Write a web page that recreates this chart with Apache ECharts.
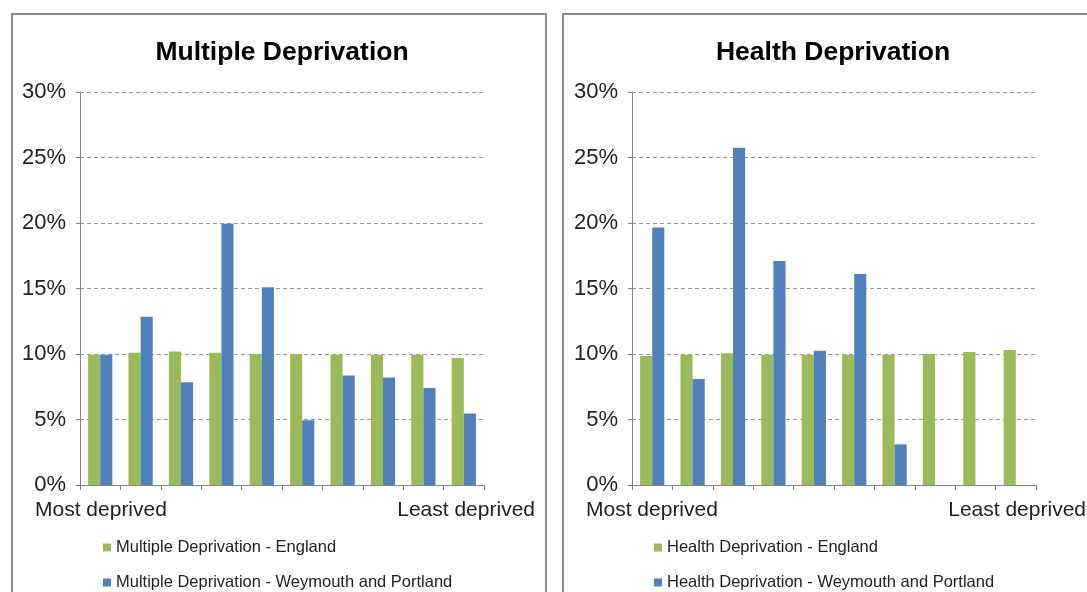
<!DOCTYPE html>
<html>
<head>
<meta charset="utf-8">
<script src="https://cdn.jsdelivr.net/npm/echarts@6/dist/echarts.min.js"></script>
<style>
  html, body { margin: 0; padding: 0; background: #fff; }
  #chart { width: 1087px; height: 592px; }
</style>
</head>
<body>
<div id="chart"></div>
<script>
// Deciles, from most deprived (1) to least deprived (10)
const deciles = ['1', '2', '3', '4', '5', '6', '7', '8', '9', '10'];

// Share of areas in each decile (%)
const multipleEngland   = [9.95, 10.1, 10.2, 10.1, 10.0, 10.0, 9.95, 9.95, 9.95, 9.7];
const multipleWeymouth  = [9.95, 12.85, 7.85, 19.95, 15.1, 4.95, 8.35, 8.2, 7.4, 5.45];
const healthEngland     = [9.85, 9.95, 10.05, 9.95, 9.95, 9.95, 9.95, 10.0, 10.15, 10.3];
const healthWeymouth    = [19.65, 8.1, 25.75, 17.1, 10.25, 16.1, 3.1, null, null, null];

const panelTitles = ['Multiple Deprivation', 'Health Deprivation'];
const seriesNames = [
  ['Multiple Deprivation - England', 'Multiple Deprivation - Weymouth and Portland'],
  ['Health Deprivation - England', 'Health Deprivation - Weymouth and Portland']
];
const endLabels = ['Most deprived', 'Least deprived'];

const GREEN = '#9BBB59';
const BLUE = '#4F81BD';
const FONT = '"Liberation Sans", Arial, sans-serif';
const TEXT = '#222';

const panels = [
  { x: 12, axisX: 80 },
  { x: 563, axisX: 632 }
];
const PANEL_W = 534;
const PLOT_W = 404;
const PLOT_TOP = 92;
const PLOT_H = 393;
const LEGEND_ROWS = [539, 574];

const chart = echarts.init(document.getElementById('chart'), null, { renderer: 'canvas' });

const grids = [], xAxes = [], yAxes = [], titles = [], legends = [], graphics = [];
const dataSets = [[multipleEngland, multipleWeymouth], [healthEngland, healthWeymouth]];
const series = [];

panels.forEach((p, i) => {
  grids.push({ left: p.axisX, top: PLOT_TOP, width: PLOT_W, height: PLOT_H, containLabel: false });
  xAxes.push({
    type: 'category', gridIndex: i, data: deciles,
    axisLine: { lineStyle: { color: '#868686', width: 1 } },
    axisTick: { show: true, length: 5, lineStyle: { color: '#868686' } },
    axisLabel: { show: false },
    splitLine: { show: false }
  });
  yAxes.push({
    type: 'value', gridIndex: i, min: 0, max: 30, interval: 5,
    axisLine: { show: true, lineStyle: { color: '#868686', width: 1 } },
    axisTick: { show: true, length: 4, lineStyle: { color: '#868686' } },
    axisLabel: { formatter: '{value}%', fontFamily: FONT, fontSize: 22, color: TEXT, margin: 14 },
    splitLine: { show: true, lineStyle: { color: '#9a9a9a', type: [4, 3], width: 1 } }
  });
  titles.push({
    text: panelTitles[i], left: p.x + PANEL_W / 2 - 2, top: 34, textAlign: 'center',
    textStyle: { fontFamily: FONT, fontSize: 26.5, fontWeight: 'bold', color: '#000' }
  });
  // one legend entry per row, stacked under the plot
  seriesNames[i].forEach((name, k) => {
    legends.push({
      data: [name], left: p.x + 91, top: LEGEND_ROWS[k],
      itemWidth: 8, itemHeight: 8, icon: 'rect', padding: 0,
      textStyle: { fontFamily: FONT, fontSize: 16.5, color: TEXT }
    });
  });
  graphics.push({
    type: 'rect', shape: { x: p.x, y: 14, width: PANEL_W, height: 640 },
    style: { fill: 'none', stroke: '#8c8c8c', lineWidth: 2 }, silent: true
  });
  graphics.push({
    type: 'text', x: p.x + 23, y: 510,
    style: { text: endLabels[0], font: '21px ' + FONT, fill: TEXT, textAlign: 'left', textVerticalAlign: 'middle' }
  });
  graphics.push({
    type: 'text', x: p.x + PANEL_W - 11, y: 510,
    style: { text: endLabels[1], font: '21px ' + FONT, fill: TEXT, textAlign: 'right', textVerticalAlign: 'middle' }
  });
  [GREEN, BLUE].forEach((c, k) => {
    series.push({
      type: 'bar', name: seriesNames[i][k], xAxisIndex: i, yAxisIndex: i,
      data: dataSets[i][k], barGap: '0%', barCategoryGap: '40%',
      itemStyle: { color: c }, animation: false
    });
  });
});

chart.setOption({
  backgroundColor: '#fff',
  animation: false,
  title: titles,
  legend: legends,
  grid: grids,
  xAxis: xAxes,
  yAxis: yAxes,
  series: series,
  graphic: graphics
});
</script>
</body>
</html>
